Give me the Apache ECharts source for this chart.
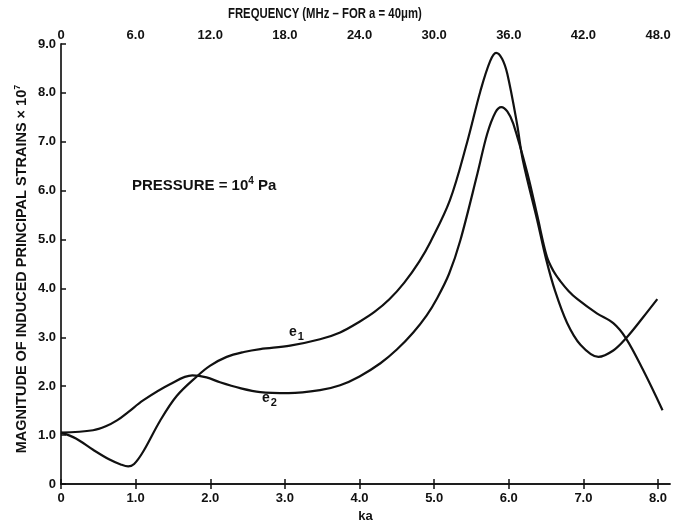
<!DOCTYPE html>
<html>
<head>
<meta charset="utf-8">
<script src="https://cdn.jsdelivr.net/npm/echarts@6/dist/echarts.min.js"></script>
<style>
html,body{margin:0;padding:0;background:#fff;}
#c{width:682px;height:523px;}
</style>
</head>
<body>
<div id="c"></div>
<script>
// ---- data (ka, strain magnitude x 1e7) ----
var kaTicks = ['0','1.0','2.0','3.0','4.0','5.0','6.0','7.0','8.0'];
var freqTicks = ['0','6.0','12.0','18.0','24.0','30.0','36.0','42.0','48.0'];
var strainTicks = ['0','1.0','2.0','3.0','4.0','5.0','6.0','7.0','8.0','9.0'];

var e1 = [
  [0,1.05],[0.2,0.93],[0.43,0.7],[0.65,0.5],[0.8,0.4],[0.9,0.36],[0.98,0.41],[1.1,0.66],
  [1.33,1.3],[1.55,1.8],[1.82,2.2],[2.0,2.42],[2.22,2.6],[2.45,2.7],[2.67,2.76],[3.07,2.83],
  [3.47,2.96],[3.74,3.1],[4.0,3.32],[4.2,3.52],[4.4,3.78],[4.6,4.12],[4.8,4.55],[4.95,4.95],
  [5.21,5.8],[5.44,6.98],[5.62,8.04],[5.75,8.65],[5.83,8.82],[5.91,8.7],[5.98,8.39],[6.11,7.37],
  [6.19,6.61],[6.38,5.4],[6.5,4.6],[6.62,3.95],[6.78,3.3],[6.96,2.85],[7.2,2.6],[7.4,2.73],
  [7.57,2.98],[7.8,3.41],[7.99,3.78]
];
var e2 = [
  [0,1.05],[0.43,1.1],[0.6,1.18],[0.75,1.3],[0.9,1.47],[1.1,1.71],[1.46,2.04],[1.76,2.22],
  [1.95,2.18],[2.13,2.08],[2.4,1.96],[2.67,1.88],[3.05,1.86],[3.47,1.92],[3.74,2.02],
  [4.0,2.2],[4.28,2.47],[4.5,2.75],[4.72,3.1],[4.9,3.45],[5.04,3.8],[5.2,4.3],[5.35,4.98],
  [5.58,6.35],[5.71,7.16],[5.82,7.6],[5.9,7.71],[5.98,7.62],[6.06,7.37],[6.25,6.35],[6.38,5.5],
  [6.51,4.65],[6.6,4.35],[6.69,4.15],[6.8,3.95],[6.92,3.78],[7.18,3.49],[7.4,3.29],
  [7.57,2.98],[7.8,2.33],[8.06,1.51]
];

var FONT = 'Liberation Sans, Arial, sans-serif';
var INK = '#111';
var chart = echarts.init(document.getElementById('c'), null, {renderer:'canvas'});

function lbl(arr, step){
  return function(v){
    var i = Math.round(v/step);
    if (Math.abs(v - i*step) > 1e-6 || i >= arr.length) return '';
    return arr[i];
  };
}
var labelStyle = {color: INK, fontFamily: FONT, fontWeight: 'bold', fontSize: 13};

chart.setOption({
  animation: false,
  grid: {left: 61, right: 12, top: 44, bottom: 39, containLabel: false, outerBoundsMode: 'none'},
  xAxis: [{
    type: 'value', min: 0, max: 8.16, interval: 1, position: 'bottom',
    name: 'ka', nameLocation: 'middle', nameGap: 25,
    nameTextStyle: {color: INK, fontFamily: FONT, fontWeight: 'bold', fontSize: 13},
    axisLine: {show: true, lineStyle: {color: INK, width: 1.5}},
    axisTick: {show: true, inside: true, length: 5, lineStyle: {color: INK, width: 1.5}},
    axisLabel: Object.assign({margin: 8, formatter: lbl(kaTicks, 1), showMaxLabel: false}, labelStyle),
    splitLine: {show: false}
  },{
    type: 'value', min: 0, max: 48.96, interval: 6, position: 'top',
    axisLine: {show: true, lineStyle: {color: INK, width: 1.5}},
    axisTick: {show: true, inside: true, length: 5, lineStyle: {color: INK, width: 1.5}},
    axisLabel: Object.assign({margin: 2, formatter: lbl(freqTicks, 6), showMaxLabel: false}, labelStyle),
    splitLine: {show: false}
  }],
  yAxis: [{
    type: 'value', min: 0, max: 9, interval: 1, position: 'left',
    axisLine: {show: true, lineStyle: {color: INK, width: 1.5}},
    axisTick: {show: true, inside: true, length: 5, lineStyle: {color: INK, width: 1.5}},
    axisLabel: Object.assign({margin: 5, formatter: lbl(strainTicks, 1)}, labelStyle),
    splitLine: {show: false}
  },{
    type: 'value', min: 0, max: 9, position: 'right',
    axisLine: {show: true, lineStyle: {color: '#333', width: 1.5}},
    axisTick: {show: false}, axisLabel: {show: false}, splitLine: {show: false}
  }],
  series: [{
    name: 'e1', type: 'line', data: e1, smooth: 0.35, showSymbol: false,
    lineStyle: {color: INK, width: 2.2}, xAxisIndex: 0, yAxisIndex: 0
  },{
    name: 'e2', type: 'line', data: e2, smooth: 0.35, showSymbol: false,
    lineStyle: {color: INK, width: 2.2}, xAxisIndex: 0, yAxisIndex: 0
  }],
  graphic: [{
    type: 'text', x: 228, y: 7, scaleX: 0.81,
    style: {text: 'FREQUENCY (MHz \u2013 FOR a = 40\u03bcm)', fill: INK, font: 'bold 14px ' + FONT}
  },{
    type: 'text', x: 22, y: 269, rotation: Math.PI / 2,
    style: {
      text: 'MAGNITUDE OF INDUCED PRINCIPAL STRAINS \u00d7 10{sup|7}', fill: INK,
      font: 'bold 14.5px ' + FONT, align: 'center', verticalAlign: 'middle',
      rich: {sup: {fontFamily: FONT, fontWeight: 'bold', fontSize: 9, verticalAlign: 'top', padding: [0,0,8,0], fill: INK}}
    }
  },{
    type: 'text', left: 132, top: 176,
    style: {
      text: 'PRESSURE = 10{sup|4} Pa', fill: INK,
      font: 'bold 15px ' + FONT,
      rich: {sup: {fontFamily: FONT, fontWeight: 'bold', fontSize: 10, verticalAlign: 'top', padding:[0,0,9,0], fill: INK}}
    }
  },{
    type: 'text', left: 289, top: 325,
    style: {text: 'e{sub|1}', fill: INK, font: 'bold 14px ' + FONT,
      rich: {sub: {fontFamily: FONT, fontWeight: 'bold', fontSize: 11, padding: [10,0,0,1], fill: INK}}}
  },{
    type: 'text', left: 262, top: 391,
    style: {text: 'e{sub|2}', fill: INK, font: 'bold 14px ' + FONT,
      rich: {sub: {fontFamily: FONT, fontWeight: 'bold', fontSize: 11, padding: [10,0,0,1], fill: INK}}}
  }]
});
</script>
</body>
</html>
